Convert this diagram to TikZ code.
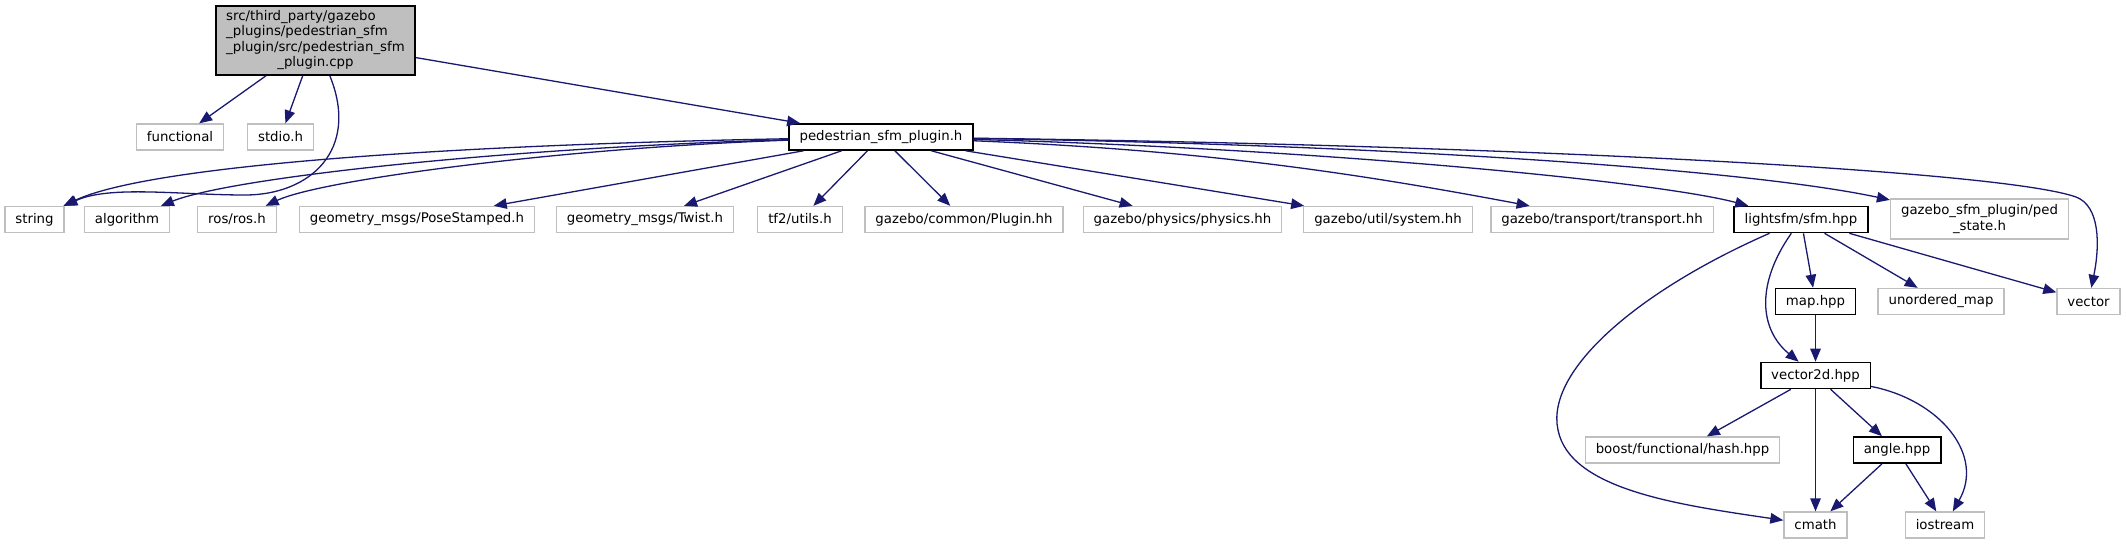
\documentclass[tikz,border=0pt]{standalone}
\usepackage{fontspec}
\setmainfont{DejaVu Sans}
\usetikzlibrary{arrows.meta}
\definecolor{edgeblue}{HTML}{191970}
\definecolor{extborder}{HTML}{BFBFBF}
\definecolor{rootfill}{HTML}{BFBFBF}

\begin{document}
\begin{tikzpicture}[
    x=1pt, y=1pt,
    font=\fontsize{13.3}{15.5}\selectfont,
    >={Triangle[length=13pt, width=10.5pt]},
    extfile/.style={rectangle, draw=extborder, line width=1.3pt,
                    minimum height=26pt, inner xsep=10.5pt, inner ysep=0pt},
    docfile/.style={extfile, draw=black, line width=1.6pt},
    rootfile/.style={docfile, fill=rootfill, minimum width=197pt,
                     minimum height=69pt},
    dep/.style={->, draw=edgeblue, line width=1.3pt},
]

\useasboundingbox (0,0) rectangle (2126,-544);

% rows of the include graph
\def\rowtwo{-137}
\def\rowthree{-219.5}
\def\rowfour{-301.5}
\def\rowfive{-375.5}
\def\rowsix{-450}
\def\rowseven{-525}

% the file itself
\node[rootfile] (root) at (315.5,-40.5)
    {\begin{tabular}{@{}l@{}}src/third\_party/gazebo\\\_plugins/pedestrian\_sfm\\
     \_plugin/src/pedestrian\_sfm\\\multicolumn{1}{@{}c@{}}{\_plugin.cpp}\end{tabular}};

% direct includes
\node[extfile] (functional) at (180,\rowtwo) {functional};
\node[extfile] (stdio) at (280.5,\rowtwo) {stdio.h};
\node[docfile] (pedplugin) at (881,\rowtwo) {pedestrian\_sfm\_plugin.h};

% includes of pedestrian_sfm_plugin.h
\node[extfile] (string) at (34.5,\rowthree) {string};
\node[extfile] (algorithm) at (127,\rowthree) {algorithm};
\node[extfile] (rosh) at (237,\rowthree) {ros/ros.h};
\node[extfile] (posestamped) at (417,\rowthree) {geometry\_msgs/PoseStamped.h};
\node[extfile] (twist) at (645,\rowthree) {geometry\_msgs/Twist.h};
\node[extfile] (tfutils) at (800,\rowthree) {tf2/utils.h};
\node[extfile] (plugin) at (964,\rowthree) {gazebo/common/Plugin.hh};
\node[extfile] (physics) at (1182.5,\rowthree) {gazebo/physics/physics.hh};
\node[extfile] (system) at (1388,\rowthree) {gazebo/util/system.hh};
\node[extfile] (transport) at (1602,\rowthree) {gazebo/transport/transport.hh};
\node[docfile] (sfm) at (1801,\rowthree) {lightsfm/sfm.hpp};
\node[extfile, minimum height=40pt, align=center] (pedstate) at (1979.5,-219)
    {gazebo\_sfm\_plugin/ped\\\_state.h};

% lightsfm
\node[docfile] (maphpp) at (1815.5,\rowfour) {map.hpp};
\node[extfile] (unorderedmap) at (1941,\rowfour) {unordered\_map};
\node[extfile] (vector) at (2088.5,\rowfour) {vector};
\node[docfile] (vectortwod) at (1815.5,\rowfive) {vector2d.hpp};
\node[extfile] (boosthash) at (1682.5,\rowsix) {boost/functional/hash.hpp};
\node[docfile] (angle) at (1897,\rowsix) {angle.hpp};
\node[extfile] (cmath) at (1815.5,\rowseven) {cmath};
\node[extfile] (iostream) at (1945,\rowseven) {iostream};

% edges from the file
\draw[dep] (root) -- (functional);
\draw[dep] (root) -- (stdio);
\draw[dep] (root) -- (pedplugin);
\draw[dep] (root) .. controls (360,-150) and (310,-195) .. (245,-195)
    .. controls (180,-195) and (110,-185) .. (string);

% edges from pedestrian_sfm_plugin.h
\draw[dep] (pedplugin) .. controls (450,-145) and (150,-165) .. (string);
\draw[dep] (pedplugin) .. controls (500,-148) and (230,-178) .. (algorithm);
\draw[dep] (pedplugin) .. controls (560,-148) and (320,-180) .. (rosh);
\draw[dep] (pedplugin) -- (posestamped);
\draw[dep] (pedplugin) -- (twist);
\draw[dep] (pedplugin) -- (tfutils);
\draw[dep] (pedplugin) -- (plugin);
\draw[dep] (pedplugin) -- (physics);
\draw[dep] (pedplugin) -- (system);
\draw[dep] (pedplugin) .. controls (1200,-150) and (1350,-172) .. (transport);
\draw[dep] (pedplugin) .. controls (1300,-148) and (1650,-180) .. (sfm);
\draw[dep] (pedplugin) .. controls (1400,-145) and (1750,-170) .. (pedstate);
\draw[dep] (pedplugin) .. controls (1500,-145) and (2000,-170) .. (2076,-197)
    .. controls (2100,-206) and (2100,-245) .. (vector);

% edges from lightsfm/sfm.hpp
\draw[dep] (sfm) .. controls (1640,-290) and (1545,-370) .. (1558,-430)
    .. controls (1570,-490) and (1680,-505) .. (cmath);
\draw[dep] (sfm) .. controls (1755,-285) and (1760,-330) .. (vectortwod);
\draw[dep] (sfm) -- (maphpp);
\draw[dep] (sfm) -- (unorderedmap);
\draw[dep] (sfm) -- (vector);
\draw[dep] (maphpp) -- (vectortwod);

% edges from vector2d.hpp and angle.hpp
\draw[dep] (vectortwod) -- (boosthash);
\draw[dep] (vectortwod) -- (cmath);
\draw[dep] (vectortwod) -- (angle);
\draw[dep] (vectortwod) .. controls (1940,-400) and (1985,-455) .. (iostream);
\draw[dep] (angle) -- (cmath);
\draw[dep] (angle) -- (iostream);

\end{tikzpicture}
\end{document}
